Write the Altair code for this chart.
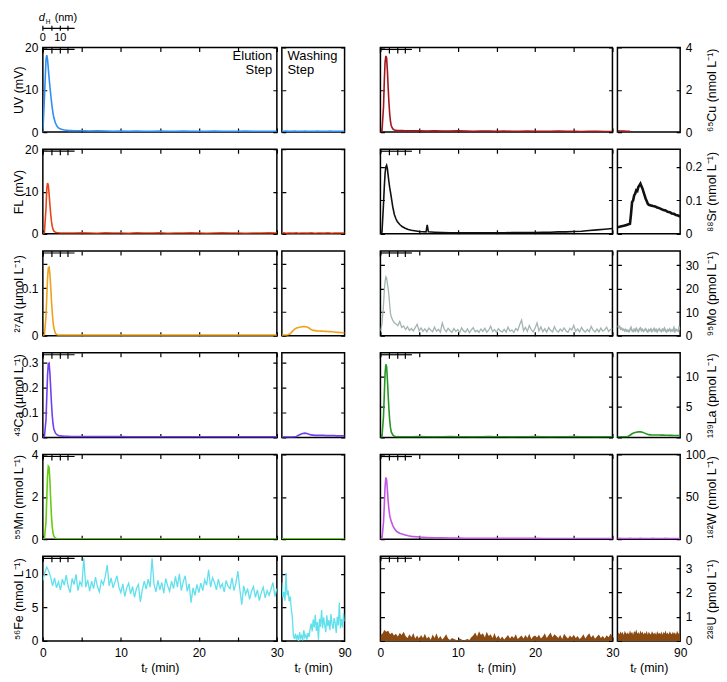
import altair as alt
import pandas as pd

# ------------------------------------------------------------------ data
T_MAIN = [0, 0.2, 0.4, 0.5, 0.6, 0.7, 0.8, 0.9, 1.0, 1.1, 1.2, 1.3, 1.4, 1.6, 1.8, 2.0, 2.2, 2.5, 2.8, 3.2, 3.6, 4,
          5, 6, 7, 8, 9, 10, 11, 12, 13, 14, 15, 16, 17, 18, 19, 20, 21, 22, 23, 24, 25, 26, 27, 28, 29, 30]
T_WASH = [30, 32, 34, 36, 38, 40, 42, 44, 46, 48, 50, 52, 54, 56, 58, 60, 62, 64, 66, 68, 70, 72, 74, 76, 78, 80,
          82, 84, 86, 88, 90]
T_NOISE = [0, 0.25, 0.5, 0.75, 1, 1.25, 1.5, 1.75, 2, 2.25, 2.5, 2.75, 3, 3.25, 3.5, 3.75, 4, 4.25, 4.5, 4.75,
           5, 5.25, 5.5, 5.75, 6, 6.25, 6.5, 6.75, 7, 7.25, 7.5, 7.75, 8, 8.25, 8.5, 8.75, 9, 9.25, 9.5, 9.75,
           10, 10.25, 10.5, 10.75, 11, 11.25, 11.5, 11.75, 12, 12.25, 12.5, 12.75, 13, 13.25, 13.5, 13.75,
           14, 14.25, 14.5, 14.75, 15, 15.25, 15.5, 15.75, 16, 16.25, 16.5, 16.75, 17, 17.25, 17.5, 17.75,
           18, 18.25, 18.5, 18.75, 19, 19.25, 19.5, 19.75, 20, 20.25, 20.5, 20.75, 21, 21.25, 21.5, 21.75,
           22, 22.25, 22.5, 22.75, 23, 23.25, 23.5, 23.75, 24, 24.25, 24.5, 24.75, 25, 25.25, 25.5, 25.75,
           26, 26.25, 26.5, 26.75, 27, 27.25, 27.5, 27.75, 28, 28.25, 28.5, 28.75, 29, 29.25, 29.5, 29.75, 30]
T_WASH_N = [30, 31, 32, 33, 34, 35, 36, 37, 38, 39, 40, 41, 42, 43, 44, 45, 46, 47, 48, 49, 50, 51, 52, 53, 54,
            55, 56, 57, 58, 59, 60, 61, 62, 63, 64, 65, 66, 67, 68, 69, 70, 71, 72, 73, 74, 75, 76, 77, 78, 79,
            80, 81, 82, 83, 84, 85, 86, 87, 88, 89, 90]

UV_MAIN = [0, 8, 17, 18.2, 17.2, 15, 12.8, 10.8, 9, 7.3, 5.8, 4.5, 3.5, 2.2, 1.4, 1.0, 0.8, 0.6, 0.5, 0.4, 0.35, 0.3,
           0.3, 0.25, 0.3, 0.25, 0.2, 0.25, 0.2, 0.25, 0.2, 0.2, 0.25, 0.2, 0.2, 0.25, 0.2, 0.2, 0.2, 0.25, 0.2,
           0.2, 0.2, 0.25, 0.2, 0.2, 0.2, 0.2]
UV_WASH = [0.25, 0.2, 0.22, 0.2, 0.18, 0.2, 0.22, 0.2, 0.2, 0.18, 0.2, 0.22, 0.2, 0.2, 0.18, 0.2, 0.2, 0.22, 0.2,
           0.18, 0.2, 0.2, 0.2, 0.22, 0.2, 0.18, 0.2, 0.2, 0.2, 0.2, 0.2]
FL_MAIN = [0, 0.3, 6, 10.5, 12, 11.5, 9.5, 7, 4.8, 3, 1.8, 1.1, 0.7, 0.4, 0.3, 0.25, 0.2, 0.2, 0.2, 0.2, 0.2, 0.2,
           0.25, 0.2, 0.15, 0.25, 0.2, 0.2, 0.15, 0.25, 0.2, 0.2, 0.25, 0.15, 0.2, 0.2, 0.25, 0.2, 0.15, 0.2,
           0.25, 0.2, 0.2, 0.15, 0.2, 0.2, 0.25, 0.2]
FL_WASH = [0.2, 0.25, 0.15, 0.2, 0.22, 0.18, 0.2, 0.25, 0.15, 0.2, 0.2, 0.22, 0.18, 0.2, 0.25, 0.2, 0.15, 0.2,
           0.22, 0.2, 0.18, 0.2, 0.25, 0.2, 0.15, 0.2, 0.2, 0.22, 0.2, 0.18, 0.2]
AL_MAIN = [0, 0.002, 0.04, 0.08, 0.12, 0.142, 0.144, 0.13, 0.105, 0.075, 0.05, 0.03, 0.017, 0.005, 0.002, 0.001,
           0.001, 0.001, 0.001, 0.001, 0.001, 0.001,
           0.001, 0.001, 0.001, 0.001, 0.001, 0.001, 0.001, 0.001, 0.001, 0.001, 0.001, 0.001, 0.001, 0.001,
           0.001, 0.001, 0.001, 0.001, 0.001, 0.001, 0.001, 0.001, 0.001, 0.001, 0.001, 0.001]
AL_WASH = [0.001, 0.001, 0.001, 0.002, 0.004, 0.009, 0.013, 0.016, 0.017, 0.018, 0.019, 0.019, 0.018, 0.016,
           0.013, 0.011, 0.0105, 0.01, 0.0098, 0.0095, 0.0092, 0.009, 0.0088, 0.0085, 0.008, 0.0075, 0.007,
           0.0068, 0.0065, 0.006, 0.0058]
CA_MAIN = [0, 0.003, 0.07, 0.16, 0.25, 0.295, 0.298, 0.26, 0.2, 0.14, 0.09, 0.055, 0.035, 0.018, 0.011, 0.008,
           0.006, 0.005, 0.004, 0.004, 0.003, 0.003,
           0.003, 0.003, 0.003, 0.003, 0.003, 0.003, 0.002, 0.002, 0.002, 0.002, 0.002, 0.002, 0.002, 0.002,
           0.002, 0.002, 0.002, 0.002, 0.002, 0.002, 0.002, 0.002, 0.002, 0.002, 0.002, 0.002]
CA_WASH = [0.001, 0.001, 0.001, 0.001, 0.001, 0.001, 0.002, 0.004, 0.009, 0.013, 0.016, 0.017, 0.016, 0.013,
           0.01, 0.009, 0.008, 0.008, 0.008, 0.008, 0.008, 0.007, 0.007, 0.007, 0.007, 0.007, 0.006, 0.006,
           0.006, 0.006, 0.006]
MN_MAIN = [0, 0.02, 0.8, 1.9, 3.0, 3.45, 3.4, 2.8, 1.9, 1.1, 0.6, 0.3, 0.15, 0.05, 0.02, 0.01, 0.01, 0.01, 0.01,
           0.01, 0.01, 0.01,
           0.01, 0.01, 0.01, 0.01, 0.01, 0.01, 0.01, 0.01, 0.01, 0.01, 0.01, 0.01, 0.01, 0.01, 0.01, 0.01, 0.01,
           0.01, 0.01, 0.01, 0.01, 0.01, 0.01, 0.01, 0.01, 0.01]
MN_WASH = [0.02, 0.02, 0.02, 0.02, 0.02, 0.02, 0.02, 0.02, 0.02, 0.02, 0.02, 0.02, 0.02, 0.02, 0.02, 0.02, 0.02,
           0.02, 0.02, 0.02, 0.02, 0.02, 0.02, 0.02, 0.02, 0.02, 0.02, 0.02, 0.02, 0.02, 0.02]
FE_MAIN = [9.0, 10.2, 11.0, 10.4, 9.5, 8.2, 9.4, 7.9, 8.8, 7.6, 9.2, 8.3, 9.8, 8.1, 7.2, 9.3, 8.4, 9.9, 7.5, 8.8,
           8.2, 12.3, 8.0, 9.1, 7.4, 8.9, 7.8, 9.5, 8.1, 7.3, 9.0, 8.4, 9.6, 11.3, 8.2, 9.4, 7.9, 8.8, 9.7, 8.0,
           7.2, 8.5, 6.6, 7.9, 8.6, 7.0, 8.1, 6.5, 7.8, 8.4, 5.8, 7.6, 8.9, 7.7, 9.2, 8.0, 12.3, 8.4, 7.3, 9.0,
           7.6, 8.7, 7.1, 9.3, 8.2, 7.4, 8.9, 7.8, 9.6, 8.0, 10.0, 7.5, 8.8, 9.7, 7.4, 8.5, 5.7, 7.9, 6.8, 8.4,
           7.2, 8.6, 7.5, 9.1, 8.3, 10.6, 8.0, 9.4, 8.7, 7.6, 9.2, 7.9, 8.5, 7.3, 9.0, 8.1, 7.8, 9.4, 7.5, 8.6,
           10.4, 7.7, 5.4, 8.2, 6.9, 7.8, 6.2, 7.4, 8.1, 6.5, 7.6, 6.0, 7.2, 8.0, 6.4, 7.5, 6.8, 7.7, 8.7, 6.6,
           7.8]
FE_WASH = [8.7, 6.5, 7.3, 6.0, 10.1, 6.8, 7.5, 5.9, 6.6, 4.8, 3.6, 0.8, 0.3, 1.1, 0.2, 0.9, 0.0, 1.3, 0.4, 0.8,
           0.1, 1.6, 0.5, 0.9, 0.2, 1.2, 0.6, 1.8, 2.6, 1.4, 3.2, 2.0, 3.9, 1.5, 2.8, 0.2, 3.3, 2.1, 4.6, 1.9,
           3.5, 2.4, 1.3, 3.8, 2.2, 3.1, 1.6, 4.0, 2.5, 1.8, 3.4, 2.7, 1.2, 3.6, 2.3, 5.7, 1.9, 3.3, 2.0, 4.1,
           2.9]

CU_MAIN = [0, 0.05, 1.2, 2.4, 3.3, 3.6, 3.5, 2.9, 2.1, 1.4, 0.85, 0.5, 0.3, 0.15, 0.1, 0.08, 0.07, 0.07, 0.07,
           0.06, 0.06, 0.06,
           0.06, 0.05, 0.06, 0.05, 0.05, 0.06, 0.05, 0.04, 0.05, 0.05, 0.04, 0.05, 0.04, 0.04, 0.05, 0.04, 0.04,
           0.04, 0.05, 0.04, 0.04, 0.03, 0.04, 0.04, 0.03, 0.03]
T_CU_WASH = [30, 33, 36, 39, 42]
CU_WASH = [0.06, 0.05, 0.05, 0.04, 0.04]
T_SR_MAIN = [0, 0.2, 0.4, 0.5, 0.6, 0.7, 0.8, 0.9, 1.0, 1.1, 1.2, 1.3, 1.4, 1.6, 1.8, 2.0, 2.2, 2.5, 2.8, 3.2,
             3.6, 4, 5, 5.9, 6.05, 6.2, 7, 8, 9, 10, 11, 12, 13, 14, 15, 16, 17, 18, 19, 20, 21, 22, 23, 24, 25,
             26, 27, 28, 29, 30]
SR_MAIN = [0, 0.005, 0.09, 0.14, 0.18, 0.2, 0.205, 0.195, 0.175, 0.155, 0.138, 0.125, 0.11, 0.08, 0.058, 0.045,
           0.036, 0.028, 0.022, 0.017, 0.013, 0.011, 0.007, 0.006, 0.027, 0.006, 0.005, 0.004, 0.003, 0.003,
           0.003, 0.003, 0.003, 0.003, 0.003, 0.003, 0.004, 0.004, 0.004, 0.004, 0.005, 0.005, 0.006, 0.006,
           0.007, 0.008, 0.010, 0.012, 0.014, 0.016]
T_SR_WASH = [30, 32, 34, 36, 38, 40, 42, 43, 44, 45, 46, 47, 48, 49, 50, 51, 52, 53, 54, 55, 56, 57, 58, 59, 60,
             62, 64, 66, 68, 70, 72, 74, 76, 78, 80, 82, 84, 86, 88, 90]
SR_WASH = [0.02, 0.021, 0.023, 0.024, 0.026, 0.028, 0.03, 0.06, 0.095, 0.1, 0.115, 0.12, 0.13, 0.128, 0.14, 0.145,
           0.15, 0.142, 0.135, 0.125, 0.115, 0.105, 0.098, 0.09, 0.087, 0.085, 0.083, 0.082, 0.079, 0.077, 0.074,
           0.071, 0.07, 0.066, 0.065, 0.061, 0.06, 0.056, 0.055, 0.052]
T_MO_PEAK = [0, 0.2, 0.4, 0.5, 0.6, 0.7, 0.8, 0.9, 1.0, 1.1, 1.2, 1.3, 1.4, 1.6, 1.8]
MO_MAIN = [2, 5, 13, 19, 23, 25, 24.5, 22, 20, 17, 13, 9.5, 8, 6.5, 5.5,
           5.0, 4.2, 6.0, 3.5, 4.1, 2.6, 3.8, 2.2, 3.0, 2.0, 3.4, 4.8, 2.1, 3.3, 1.8, 2.9, 1.6, 3.2, 2.4, 1.7,
           3.6, 1.9, 2.7, 1.5, 5.4, 2.8, 1.6, 3.1, 2.2, 1.4, 3.0, 1.8, 2.6, 1.3, 3.3, 2.0, 1.5, 2.9, 1.2, 2.4,
           3.4, 1.6, 2.2, 1.4, 2.8, 1.8, 3.1, 1.5, 2.3, 4.0, 1.7, 2.6, 1.4, 3.0, 2.0, 1.6, 2.7, 1.5, 3.6, 1.9,
           2.4, 1.3, 3.0, 2.2, 4.6, 6.6, 2.1, 3.5, 1.8, 4.3, 2.5, 1.6, 3.2, 5.4, 2.0, 3.7, 1.7, 2.9, 1.5, 3.4,
           2.3, 1.6, 3.8, 2.1, 1.5, 2.8, 1.9, 3.3, 2.0, 1.4, 3.1, 2.4, 4.4, 1.8, 2.9, 1.6, 3.5, 2.2, 1.5, 2.7,
           1.7, 3.9, 2.3, 1.5, 2.8, 1.6, 3.2, 1.9, 2.5, 3.6, 1.8, 2.6, 3.0]
MO_WASH = [4.2, 3.6, 3.9, 2.8, 3.1, 2.4, 2.7, 2.0, 2.6, 1.9, 2.3, 1.7, 2.5, 3.4, 2.1, 1.8, 2.6, 2.0, 3.0, 2.2,
           1.7, 2.8, 3.2, 2.1, 2.6, 1.9, 2.4, 2.9, 2.0, 1.6, 2.5, 2.1, 2.8, 1.8, 2.3, 3.0, 2.0, 2.6, 1.7, 2.4,
           2.9, 2.1, 1.8, 2.7, 2.2, 3.1, 2.0, 1.6, 2.5, 2.1, 2.8, 1.9, 2.4, 2.0, 3.3, 1.8, 2.6, 2.2, 1.9, 3.4,
           2.7]
LA_MAIN = [0, 0.1, 3.5, 7, 10.5, 12, 11.6, 9.5, 7, 4.6, 2.8, 1.6, 0.9, 0.4, 0.2, 0.15, 0.12, 0.1, 0.1, 0.1, 0.1,
           0.1,
           0.12, 0.1, 0.08, 0.1, 0.12, 0.1, 0.1, 0.08, 0.1, 0.12, 0.1, 0.1, 0.08, 0.1, 0.1, 0.12, 0.1, 0.08, 0.1,
           0.1, 0.12, 0.1, 0.1, 0.08, 0.1, 0.1]
LA_WASH = [0.1, 0.1, 0.1, 0.1, 0.1, 0.15, 0.35, 0.6, 0.75, 0.85, 0.9, 0.9, 0.85, 0.7, 0.55, 0.45, 0.42, 0.4, 0.4,
           0.4, 0.4, 0.38, 0.37, 0.36, 0.35, 0.34, 0.33, 0.32, 0.32, 0.31, 0.3]
W_MAIN = [0, 1, 20, 40, 62, 73, 70, 58, 45, 35, 28, 24, 21, 16, 12.5, 10, 8.5, 7, 6, 5, 4, 3.3,
          2.5, 2, 1.7, 1.5, 1.3, 1.2, 1.1, 1.1, 1.0, 1.0, 1.0, 0.9, 0.9, 0.9, 0.9, 0.9, 0.8, 0.8, 0.8, 0.8, 0.8,
          0.8, 0.8, 0.8, 0.8, 0.8]
W_WASH = [0.8, 0.9, 0.8, 0.7, 0.8, 0.8, 0.9, 0.8, 0.7, 0.8, 0.8, 0.9, 0.8, 0.8, 0.7, 0.8, 0.8, 0.9, 0.8, 0.7,
          0.8, 0.8, 0.8, 0.9, 0.8, 0.7, 0.8, 0.8, 0.8, 0.8, 0.8]
U_MAIN = [0.25, 0.30, 0.45, 0.38, 0.42, 0.28, 0.35, 0.22, 0.30, 0.18, 0.33, 0.25, 0.38, 0.20, 0.12, 0.28,
          0.15, 0.33, 0.10, 0.22, 0.08, 0.25, 0.12, 0.30, 0.10, 0.18, 0.05, 0.27, 0.12, 0.32, 0.09, 0.20,
          0.06, 0.15, 0.28, 0.10, 0.04, 0.12, 0.08, 0.05, 0.03, 0.10, 0.06, 0.02, 0.05, 0.08, 0.04, 0.15,
          0.22, 0.35, 0.18, 0.40, 0.25, 0.32, 0.15, 0.38, 0.20, 0.28, 0.12, 0.33, 0.10, 0.22, 0.08, 0.18,
          0.06, 0.15, 0.25, 0.10, 0.20, 0.12, 0.28, 0.08, 0.15, 0.22, 0.10, 0.25, 0.12, 0.30, 0.08, 0.18,
          0.22, 0.14, 0.26, 0.10, 0.18, 0.32, 0.12, 0.24, 0.35, 0.15, 0.28, 0.20, 0.12, 0.25, 0.08, 0.30,
          0.18, 0.10, 0.22, 0.14, 0.26, 0.12, 0.20, 0.08, 0.15, 0.28, 0.10, 0.22, 0.32, 0.14, 0.25, 0.09,
          0.18, 0.27, 0.12, 0.20, 0.10, 0.24, 0.15, 0.30, 0.20]
U_WASH = [0.22, 0.35, 0.28, 0.40, 0.30, 0.38, 0.25, 0.42, 0.33, 0.29, 0.36, 0.27, 0.44, 0.31, 0.38, 0.26, 0.41,
          0.34, 0.48, 0.30, 0.37, 0.28, 0.43, 0.32, 0.39, 0.27, 0.35, 0.30, 0.42, 0.26, 0.38, 0.31, 0.27, 0.40,
          0.33, 0.29, 0.36, 0.25, 0.41, 0.30, 0.34, 0.28, 0.39, 0.26, 0.37, 0.31, 0.43, 0.29, 0.35, 0.27, 0.40,
          0.32, 0.28, 0.38, 0.30, 0.36, 0.26, 0.42, 0.33, 0.29, 0.37]

# hydrodynamic diameter scale bar (nm) and its retention-time positions (min)
DH_NM = [0, 5, 10, 15]
DH_T = [0, 1.16, 2.24, 3.22]
DH_END = 4.07
# header text pieces ("d", subscript "H", "(nm)") and their centre positions (min)
DH_TITLE = ["d", "H", "(nm)"]
DH_TITLE_T = [-0.12, 0.66, 2.95]

LEFT = [
    dict(t=T_MAIN, v=UV_MAIN, tw=T_WASH, vw=UV_WASH, color="#2f8ef3", ydom=[0, 20], yt=[0, 10, 20],
         ylab=[(0, "0"), (10, "10"), (20, "20")], title="UV (mV)"),
    dict(t=T_MAIN, v=FL_MAIN, tw=T_WASH, vw=FL_WASH, color="#e8441a", ydom=[0, 20], yt=[0, 10, 20],
         ylab=[(0, "0"), (10, "10"), (20, "20")], title="FL (mV)"),
    dict(t=T_MAIN, v=AL_MAIN, tw=T_WASH, vw=AL_WASH, color="#eea21e", ydom=[0, 0.178], yt=[0, 0.05, 0.1, 0.15],
         ylab=[(0, "0"), (0.1, "0.1")], title="²⁷Al (µmol L⁻¹)"),
    dict(t=T_MAIN, v=CA_MAIN, tw=T_WASH, vw=CA_WASH, color="#7040ee", ydom=[0, 0.34], yt=[0, 0.1, 0.2, 0.3],
         ylab=[(0, "0"), (0.1, "0.1"), (0.2, "0.2"), (0.3, "0.3")], title="⁴³Ca (µmol L⁻¹)"),
    dict(t=T_MAIN, v=MN_MAIN, tw=T_WASH, vw=MN_WASH, color="#66cc11", ydom=[0, 4], yt=[0, 2, 4],
         ylab=[(0, "0"), (2, "2"), (4, "4")], title="⁵⁵Mn (nmol L⁻¹)"),
    dict(t=T_NOISE, v=FE_MAIN, tw=T_WASH_N, vw=FE_WASH, color="#5fe0ec", ydom=[0, 12.6], yt=[0, 5, 10],
         ylab=[(0, "0"), (5, "5"), (10, "10")], title="⁵⁶Fe (nmol L⁻¹)", sw=1.3),
]
RIGHT = [
    dict(t=T_MAIN, v=CU_MAIN, tw=T_CU_WASH, vw=CU_WASH, color="#a3161c", ydom=[0, 4], yt=[0, 2, 4],
         ylab=[(0, "0"), (2, "2"), (4, "4")], title="⁶⁵Cu (nmol L⁻¹)"),
    dict(t=T_SR_MAIN, v=SR_MAIN, tw=T_SR_WASH, vw=SR_WASH, color="#111111", ydom=[0, 0.253], yt=[0, 0.1, 0.2],
         ylab=[(0, "0"), (0.1, "0.1"), (0.2, "0.2")], title="⁸⁸Sr (nmol L⁻¹)", sww=2.6),
    dict(t=T_MO_PEAK + T_NOISE[8:], v=MO_MAIN, tw=T_WASH_N, vw=MO_WASH, color="#a3b4b3", ydom=[0, 36],
         yt=[0, 10, 20, 30], ylab=[(0, "0"), (10, "10"), (20, "20"), (30, "30")], title="⁹⁵Mo (pmol L⁻¹)",
         sw=1.3, sww=1.8),
    dict(t=T_MAIN, v=LA_MAIN, tw=T_WASH, vw=LA_WASH, color="#279627", ydom=[0, 13.9], yt=[0, 5, 10],
         ylab=[(0, "0"), (5, "5"), (10, "10")], title="¹³⁹La (pmol L⁻¹)"),
    dict(t=T_MAIN, v=W_MAIN, tw=T_WASH, vw=W_WASH, color="#c355e6", ydom=[0, 100], yt=[0, 50, 100],
         ylab=[(0, "0"), (50, "50"), (100, "100")], title="¹⁸²W (nmol L⁻¹)"),
    dict(t=T_NOISE, v=U_MAIN, tw=T_WASH_N, vw=U_WASH, color="#8a4a12", ydom=[0, 3.5], yt=[0, 1, 2, 3],
         ylab=[(0, "0"), (1, "1"), (2, "2"), (3, "3")], title="²³⁸U (pmol L⁻¹)", area=True),
]

# ------------------------------------------------------------------ layout
FONT = "Liberation Sans"
H = 85
H_HEAD = 18
W_MAIN_L, W_MAIN_R, W_WASH, W_GAP = 235, 233, 63, 26
X_TICKS = [0, 5, 10, 15, 20, 25, 30]
X_LABELS = [(0, "0"), (10, "10"), (20, "20"), (30, "30")]
XTITLE = "tᵣ (min)"
NO_STROKE = alt.ViewBackground(strokeOpacity=0)
Y_TITLE_X_LEFT = -24


def label_expr(pairs):
    s = "''"
    for val, txt in reversed(pairs):
        s = f"datum.value == {val} ? '{txt}' : ({s})"
    return s


def grid_dash(length):
    return [4, length - 8, 4, 1000]


def x_axis(kind, bottom):
    if kind == "main":
        kw = dict(values=X_TICKS, grid=True, gridColor="black", gridWidth=1.2, gridDash=grid_dash(H),
                  ticks=False, domain=False)
        if bottom:
            kw.update(labelExpr=label_expr(X_LABELS), labelFlush=False, labelPadding=7, title=XTITLE,
                      titlePadding=3)
        else:
            kw.update(labels=False, title=None)
        return alt.Axis(**kw)
    if bottom:
        return alt.Axis(values=[90], grid=False, ticks=False, domain=False, labelFlush=False, labelPadding=7,
                        title=XTITLE, titlePadding=3)
    return None


def y_axis(spec, width, side):
    kw = dict(values=spec["yt"], grid=True, gridColor="black", gridWidth=1.2, gridDash=grid_dash(width),
              ticks=False, domain=False)
    if side is None:
        kw.update(labels=False, title=None)
    else:
        kw.update(orient=side, labelExpr=label_expr(spec["ylab"]), labelPadding=5,
                  title=spec["title"], titleAngle=270, titleBaseline="middle",
                  titleX=Y_TITLE_X_LEFT if side == "left" else 31)
    return alt.Axis(**kw)


def scale_bar(xs, xa):
    bar = alt.Chart(pd.DataFrame({"a": [DH_T[0]], "b": [DH_END]})).mark_rule(
        color="black", strokeWidth=1.2).encode(
        x=alt.X("a:Q", scale=xs, axis=xa), x2="b:Q", y=alt.value(2))
    tk = alt.Chart(pd.DataFrame({"t": DH_T})).mark_rule(color="black", strokeWidth=1.2).encode(
        x=alt.X("t:Q", scale=xs, axis=xa), y=alt.value(0), y2=alt.value(6))
    return [bar, tk]


def dh_header():
    """Stand-alone d_H scale drawn in its own cell above the first panel, same time scale."""
    xs = alt.Scale(domain=[0, 30], nice=False, zero=False)
    # invisible left axis with the same extent as the panels' y-axis titles, so the cell lines up with them
    anchor = alt.Chart(pd.DataFrame({"a": [0], "yy": [0]})).mark_point(opacity=0).encode(
        x=alt.X("a:Q", scale=xs, axis=None),
        y=alt.Y("yy:Q", scale=alt.Scale(domain=[0, 1]),
                axis=alt.Axis(title=".", titleOpacity=0, labels=False, ticks=False, domain=False, grid=False,
                              titleAngle=270, titleBaseline="middle", titleX=Y_TITLE_X_LEFT)))
    bar = alt.Chart(pd.DataFrame({"a": [DH_T[0]], "b": [DH_END]})).mark_rule(
        color="black", strokeWidth=1.2).encode(
        x=alt.X("a:Q", scale=xs, axis=None), x2="b:Q", y=alt.value(16))
    tk = alt.Chart(pd.DataFrame({"t": DH_T})).mark_rule(color="black", strokeWidth=1.2).encode(
        x=alt.X("t:Q", scale=xs, axis=None), y=alt.value(13.5), y2=alt.value(18.5))
    labs = alt.Chart(pd.DataFrame({"t": [DH_T[0], DH_T[2]], "s": [str(DH_NM[0]), str(DH_NM[2])]})).mark_text(
        font=FONT, fontSize=11, baseline="alphabetic", align="center", color="black").encode(
        x=alt.X("t:Q", scale=xs, axis=None), y=alt.value(29), text="s:N")
    d = alt.Chart(pd.DataFrame({"t": [DH_TITLE_T[0]], "s": [DH_TITLE[0]]})).mark_text(
        font=FONT, fontSize=11, fontStyle="italic", baseline="alphabetic", align="center",
        color="black").encode(x=alt.X("t:Q", scale=xs, axis=None), y=alt.value(9), text="s:N")
    h = alt.Chart(pd.DataFrame({"t": [DH_TITLE_T[1]], "s": [DH_TITLE[1]]})).mark_text(
        font=FONT, fontSize=6.5, baseline="alphabetic", align="center", color="black").encode(
        x=alt.X("t:Q", scale=xs, axis=None), y=alt.value(11.5), text="s:N")
    nm = alt.Chart(pd.DataFrame({"t": [DH_TITLE_T[2]], "s": [DH_TITLE[2]]})).mark_text(
        font=FONT, fontSize=11, baseline="alphabetic", align="center", color="black").encode(
        x=alt.X("t:Q", scale=xs, axis=None), y=alt.value(9), text="s:N")
    return alt.layer(anchor, bar, tk, labs, d, h, nm).properties(width=W_MAIN_L, height=H_HEAD, view=NO_STROKE)


def elution_text(xs, xa):
    return [alt.Chart(pd.DataFrame({"t": [29.4], "s": ["Elution\nStep"]})).mark_text(
        font=FONT, fontSize=13, align="right", baseline="top", lineBreak="\n", lineHeight=14,
        color="black").encode(x=alt.X("t:Q", scale=xs, axis=xa), y=alt.value(3), text="s:N")]


def washing_text(xs, xa):
    return [alt.Chart(pd.DataFrame({"t": [35.4], "s": ["Washing\nStep"]})).mark_text(
        font=FONT, fontSize=13, align="left", baseline="top", lineBreak="\n", lineHeight=14,
        color="black").encode(x=alt.X("t:Q", scale=xs, axis=xa), y=alt.value(3), text="s:N")]


def panel(t, v, color, xdom, spec, width, kind, bottom, side, extra=(), sw=1.6, area=False):
    xs = alt.Scale(domain=xdom, nice=False, zero=False)
    ys = alt.Scale(domain=spec["ydom"], nice=False, zero=False)
    xa = x_axis(kind, bottom)
    df = pd.DataFrame({"t": t, "v": v})
    if area:
        m = alt.Chart(df).mark_area(color=color, opacity=1, clip=True)
    else:
        m = alt.Chart(df).mark_line(color=color, strokeWidth=sw, clip=True)
    base = m.encode(
        x=alt.X("t:Q", scale=xs, axis=xa),
        y=alt.Y("v:Q", scale=ys, axis=y_axis(spec, width, side)),
    )
    layers = [base]
    if kind == "main":
        layers += scale_bar(xs, xa)
    for f in extra:
        layers += f(xs, xa)
    return alt.layer(*layers).properties(width=width, height=H)


def blank(width, height):
    return alt.Chart(pd.DataFrame({"a": [0]})).mark_point(opacity=0).encode(
        x=alt.X("a:Q", axis=None), y=alt.Y("a:Q", axis=None)
    ).properties(width=width, height=height, view=NO_STROKE)


cells = [dh_header(), blank(1, 1), blank(1, 1), blank(1, 1), blank(1, 1)]
spacer = blank(W_GAP, H)
for i in range(6):
    bottom = i == 5
    ls, rs = LEFT[i], RIGHT[i]
    lm_extra = (elution_text,) if i == 0 else ()
    lw_extra = (washing_text,) if i == 0 else ()
    cells.append(panel(ls["t"], ls["v"], ls["color"], [0, 30], ls, W_MAIN_L, "main", bottom, "left",
                       lm_extra, sw=ls.get("sw", 1.6)))
    cells.append(panel(ls["tw"], ls["vw"], ls["color"], [30, 90], ls, W_WASH, "wash", bottom, None,
                       lw_extra, sw=ls.get("sww", ls.get("sw", 1.6))))
    cells.append(spacer)
    cells.append(panel(rs["t"], rs["v"], rs["color"], [0, 30], rs, W_MAIN_R, "main", bottom, None,
                       (), sw=rs.get("sw", 1.6), area=rs.get("area", False)))
    cells.append(panel(rs["tw"], rs["vw"], rs["color"], [30, 90], rs, W_WASH, "wash", bottom, "right",
                       (), sw=rs.get("sww", rs.get("sw", 1.6)), area=rs.get("area", False)))

chart = alt.concat(*cells, columns=5, spacing={"row": 17.2, "column": 5}, bounds="flush").properties(
    padding={"left": 4, "top": 0, "right": 0, "bottom": 0}
).configure_view(stroke="black", strokeWidth=1.5).configure_axis(
    labelFont=FONT, titleFont=FONT, labelFontSize=12, titleFontSize=12.5, titleFontWeight="normal",
    labelColor="black", titleColor="black"
)

chart.save("out.html", embed_options={"renderer": "svg", "actions": False})
